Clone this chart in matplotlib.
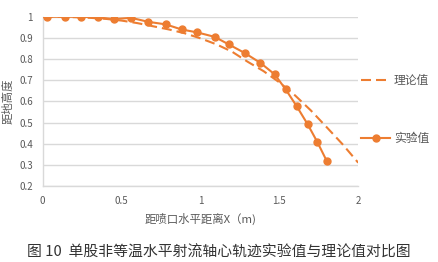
import matplotlib
matplotlib.use('Agg')
import matplotlib.pyplot as plt
from matplotlib.lines import Line2D

plt.rcParams['font.family'] = ['Noto Sans CJK SC', 'DejaVu Sans']

# measured trajectory (experiment)
x_exp = [0.03, 0.14, 0.24, 0.35, 0.45, 0.56, 0.67, 0.78, 0.88, 0.98,
         1.09, 1.18, 1.28, 1.38, 1.47, 1.54, 1.61, 1.68, 1.74, 1.80]
y_exp = [1.0, 1.0, 1.0, 0.997, 0.989, 0.995, 0.976, 0.964, 0.94, 0.926,
         0.905, 0.869, 0.829, 0.782, 0.728, 0.657, 0.577, 0.491, 0.409, 0.319]

# theoretical trajectory
x_th = [0.0, 0.1, 0.2, 0.3, 0.4, 0.5, 0.6, 0.7, 0.8, 0.9, 1.0,
        1.1, 1.2, 1.3, 1.4, 1.5, 1.6, 1.7, 1.8, 1.9, 2.0]
y_th = [1.0, 1.0, 0.998, 0.995, 0.99, 0.982, 0.97, 0.955, 0.94, 0.922, 0.898,
        0.87, 0.835, 0.787, 0.743, 0.69, 0.628, 0.557, 0.478, 0.398, 0.31]

orange = '#ED7D31'
grey = '#595959'

fig = plt.figure(figsize=(4.39, 2.62), dpi=100)
ax = fig.add_axes([0.0973, 0.290, 0.7187, 0.646])

ax.plot(x_th, y_th, color=orange, lw=1.5, dashes=(4.8, 2.4), zorder=3)
ax.plot(x_exp, y_exp, color=orange, lw=1.5, marker='o', markersize=5, zorder=4)

ax.set_xlim(0, 2)
ax.set_ylim(0.2, 1.0)
ax.set_xticks([0, 0.5, 1, 1.5, 2])
ax.set_xticklabels(['0', '0.5', '1', '1.5', '2'])
ax.set_yticks([0.2, 0.3, 0.4, 0.5, 0.6, 0.7, 0.8, 0.9, 1.0])
ax.set_yticklabels(['0.2', '0.3', '0.4', '0.5', '0.6', '0.7', '0.8', '0.9', '1'])
ax.tick_params(length=0, labelsize=7, labelcolor=grey, pad=7)
ax.yaxis.grid(True, color='#d9d9d9', lw=1)
ax.set_axisbelow(True)
for s in ['top', 'right']:
    ax.spines[s].set_visible(False)
for s in ['left', 'bottom']:
    ax.spines[s].set_color('#d9d9d9')
    ax.spines[s].set_linewidth(1)

ax.set_xlabel('距喷口水平距离X（m)', fontsize=8.2, color=grey, labelpad=5)
ax.set_ylabel('距地高度', fontsize=8.2, color=grey, labelpad=4)

handles = [Line2D([], [], color=orange, lw=1.5, dashes=(4.8, 2.4)),
           Line2D([], [], color=orange, lw=1.5, marker='o', markersize=5)]
leg = fig.legend(handles, ['理论值', '实验值'], loc='center left',
                 bbox_to_anchor=(0.822, 0.582), frameon=False, fontsize=8.5,
                 labelspacing=3.75, handlelength=2.5, handletextpad=0.3,
                 borderpad=0, borderaxespad=0)
for t in leg.get_texts():
    t.set_color(grey)

fig.text(0.498, 0.034, '图 10  单股非等温水平射流轴心轨迹实验值与理论值对比图',
         ha='center', va='center', fontsize=10.7, color='#333333')

fig.savefig('out.png', dpi=100)
